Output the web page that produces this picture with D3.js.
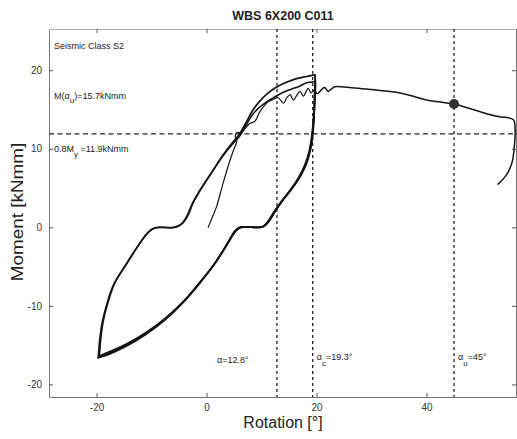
<!DOCTYPE html>
<html>
<head>
<meta charset="utf-8">
<script src="https://cdn.jsdelivr.net/npm/d3@7"></script>
<style>
  html, body { margin: 0; padding: 0; background: #fff; }
  svg { display: block; font-family: "Liberation Sans", Arial, sans-serif; }
</style>
</head>
<body>
<svg id="chart" width="517" height="439"></svg>
<script>
// Moment–rotation record of connection WBS 6X200 C011 (rotation in degrees, moment in kNmm)

const yTicks = [-20, -10, 0, 10, 20];
const xTicks = [-20, 0, 20, 40];

// first loading from rest, with the saw-tooth slip response
const initialLoad = [
  [0.3, 0], [1.0, 1.2], [1.8, 2.6], [3.0, 5.6], [4.3, 8.6], [5.0, 10.0], [5.5, 11.0],
  [5.2, 11.6], [5.6, 12.1], [6.3, 12.0], [6.9, 12.5], [7.8, 13.2], [8.8, 13.5],
  [9.6, 14.6], [10.4, 15.4], [11.2, 16.0], [12.2, 16.3], [13.0, 16.5], [14.0, 15.8],
  [14.6, 16.5], [15.2, 16.9], [15.8, 16.2], [16.4, 16.8], [17.0, 17.3], [17.6, 16.7],
  [18.1, 17.3], [18.5, 17.7], [19.0, 17.1], [19.4, 17.4], [19.7, 17.5]
];

// unloading branches (positive tip -> slip plateau -> negative tip)
const downFirst = [
  [19.7, 17.5], [19.5, 14.5], [19.2, 12.0], [18.7, 9.8], [17.9, 8.0], [16.8, 6.4],
  [15.3, 4.8], [13.6, 3.3], [12.3, 2.0], [11.2, 0.8], [10.2, 0.1], [9.4, 0], [6.3, 0],
  [5.4, -0.4], [4.4, -1.4], [3.1, -2.9], [1.6, -4.5], [-0.5, -6.4], [-3.5, -8.9],
  [-7.2, -11.4], [-10.8, -13.3], [-14.4, -14.8], [-17.5, -15.8], [-19.5, -16.4]
];
const downSecond = [
  [19.7, 18.6], [19.6, 15.0], [19.3, 12.2], [18.9, 10.0], [18.1, 8.1], [17.0, 6.5],
  [15.5, 4.9], [13.8, 3.4], [12.5, 2.1], [11.4, 0.9], [10.4, 0.15], [9.6, 0], [6.1, 0],
  [5.2, -0.5], [4.2, -1.6], [2.9, -3.1], [1.4, -4.7], [-0.7, -6.6], [-3.7, -9.1],
  [-7.4, -11.6], [-11.0, -13.5], [-14.6, -15.0], [-17.7, -16.0], [-19.6, -16.5]
];
const downThird = [
  [19.7, 19.4], [19.8, 18.2], [19.6, 15.2], [19.4, 12.5], [19.0, 10.3], [18.3, 8.4],
  [17.2, 6.7], [15.7, 5.1], [14.0, 3.6], [12.7, 2.3], [11.6, 1.0], [10.6, 0.2], [9.8, 0],
  [6.0, 0], [5.0, -0.6], [4.0, -1.8], [2.7, -3.3], [1.2, -4.9], [-0.9, -6.8],
  [-3.9, -9.3], [-7.6, -11.8], [-11.2, -13.7], [-14.8, -15.2], [-17.9, -16.2], [-19.7, -16.6]
];

// reloading branches (negative tip -> slip plateau -> positive tip)
const upMiddle = [
  [-19.5, -16.4], [-19.2, -14.0], [-18.8, -12.0], [-18.1, -10.0], [-16.7, -7.1],
  [-14.5, -4.6], [-12.1, -2.0], [-10.4, -0.5], [-9.2, -0.05], [-5.7, 0], [-4.4, 0.5],
  [-3.4, 1.5], [-2.4, 3.2], [-1.1, 4.8], [0.1, 6.1], [1.6, 7.7], [3.1, 9.2], [4.6, 10.5],
  [6.1, 11.7], [7.2, 13.0], [8.2, 14.2], [9.5, 15.2], [11.0, 16.0], [12.4, 16.6],
  [14.0, 17.2], [15.5, 17.6], [17.0, 18.0], [18.2, 18.4], [19.2, 18.5], [19.7, 18.6]
];
const upOuter = [
  [-19.7, -16.6], [-19.4, -14.2], [-19.0, -12.2], [-18.3, -10.2], [-16.9, -7.3],
  [-14.7, -4.8], [-12.3, -2.2], [-10.6, -0.6], [-9.4, -0.05], [-5.9, 0], [-4.6, 0.4],
  [-3.6, 1.4], [-2.6, 3.0], [-1.3, 4.6], [-0.1, 5.9], [1.4, 7.5], [2.9, 9.1], [4.4, 10.5],
  [6.0, 11.9], [7.3, 13.5], [8.4, 14.9], [9.6, 16.0], [11.0, 17.0], [12.6, 17.8],
  [14.3, 18.4], [16.2, 18.9], [18.2, 19.2], [19.2, 19.35], [19.7, 19.4]
];

// final monotonic push to failure
const finalPush = [
  [19.7, 17.5], [20.1, 17.0], [20.6, 17.3], [21.0, 17.6], [21.5, 17.8], [22.1, 17.3],
  [22.7, 17.6], [23.3, 17.9], [26.0, 17.8], [29.1, 17.6], [32.0, 17.4], [35.2, 17.1],
  [38.0, 16.6], [40.0, 16.2], [42.5, 15.95], [45.0, 15.7], [47.5, 15.2], [50.3, 14.6],
  [53.0, 14.1], [55.8, 13.7], [56.1, 12.5], [56.1, 11.6], [55.9, 9.8], [55.6, 8.4],
  [54.9, 7.1], [54.0, 6.2], [53.0, 5.5]
];

// reference values
const alphaLimit = 12.8, alphaC = 19.3, alphaU = 45;
const momentAtAlphaU = 15.7;
const yieldFraction = 11.9;

const svg = d3.select("#chart");
const plotLeft = 49, plotRight = 517, plotTop = 29, plotBottom = 397;

const x = d3.scaleLinear().domain([-28.65, 56.45]).range([plotLeft, plotRight]);
const y = d3.scaleLinear().domain([-21.6, 25.25]).range([plotBottom, plotTop]);

// title
svg.append("text")
  .attr("x", 283).attr("y", 19.5)
  .attr("text-anchor", "middle")
  .attr("font-size", 12.5).attr("font-weight", "bold").attr("fill", "#222")
  .text("WBS 6X200 C011");

// axes: inward ticks on all four sides, labels on left and bottom
const plainFormat = d => String(d);
function styleAxis(g) {
  g.selectAll("path.domain").attr("stroke", "#777").attr("stroke-width", 1);
  g.selectAll(".tick line").attr("stroke", "#555");
  g.selectAll(".tick text").attr("fill", "#333").attr("font-size", 10)
    .attr("font-family", "Liberation Sans, Arial, sans-serif");
}
svg.append("g").attr("transform", `translate(${plotLeft},0)`)
  .call(d3.axisLeft(y).tickValues(yTicks).tickFormat(plainFormat)
    .tickSizeInner(-4).tickSizeOuter(0).tickPadding(7))
  .call(styleAxis);
svg.append("g").attr("transform", `translate(0,${plotBottom})`)
  .call(d3.axisBottom(x).tickValues(xTicks).tickFormat(plainFormat)
    .tickSizeInner(-4).tickSizeOuter(0).tickPadding(7))
  .call(styleAxis);
svg.append("g").attr("transform", `translate(0,${plotTop})`)
  .call(d3.axisTop(x).tickValues(xTicks).tickSizeInner(-4).tickSizeOuter(0).tickFormat(""))
  .call(styleAxis)
  .call(g => g.select("path.domain").attr("stroke", "#aaa"));
svg.append("g").attr("transform", `translate(${plotRight - 1},0)`)
  .call(d3.axisRight(y).tickValues(yTicks).tickSizeInner(-4).tickSizeOuter(0).tickFormat(""))
  .call(styleAxis);

// axis titles
svg.append("text")
  .attr("transform", `translate(23,212) rotate(-90) scale(1.18,1)`)
  .attr("text-anchor", "middle").attr("font-size", 16).attr("fill", "#222")
  .text("Moment [kNmm]");
svg.append("text")
  .attr("x", 283).attr("y", 428)
  .attr("text-anchor", "middle").attr("font-size", 16).attr("fill", "#222")
  .text("Rotation [°]");

// reference lines
const plot = svg.append("g");
plot.append("line")
  .attr("x1", plotLeft).attr("x2", plotRight).attr("y1", y(yieldFraction)).attr("y2", y(yieldFraction))
  .attr("stroke", "#222").attr("stroke-width", 1.2).attr("stroke-dasharray", "5,3.5");
[alphaLimit, alphaC, alphaU].forEach(a => {
  plot.append("line")
    .attr("x1", x(a)).attr("x2", x(a)).attr("y1", plotTop).attr("y2", plotBottom)
    .attr("stroke", "#222").attr("stroke-width", 1.3).attr("stroke-dasharray", "3,3");
});

// hysteresis curves
const line = d3.line().x(d => x(d[0])).y(d => y(d[1])).curve(d3.curveCatmullRom.alpha(0.5));
const curves = [
  { data: downFirst, w: 1.8 },
  { data: downSecond, w: 1.8 },
  { data: downThird, w: 1.8 },
  { data: upMiddle, w: 1.6 },
  { data: upOuter, w: 1.7 },
  { data: initialLoad, w: 1.2 },
  { data: finalPush, w: 1.5 }
];
plot.selectAll("path.curve").data(curves).enter().append("path")
  .attr("class", "curve")
  .attr("d", d => line(d.data))
  .attr("fill", "none").attr("stroke", "#151515")
  .attr("stroke-width", d => d.w).attr("stroke-linejoin", "round").attr("stroke-linecap", "round");

// ultimate rotation marker
plot.append("circle")
  .attr("cx", x(alphaU)).attr("cy", y(momentAtAlphaU)).attr("r", 5)
  .attr("fill", "#333");

// annotations
const ann = svg.append("g").attr("font-size", 9).attr("fill", "#222");
ann.append("text").attr("x", 54).attr("y", 49).text("Seismic Class  S2");

const mu = ann.append("text").attr("x", 54).attr("y", 99);
mu.append("tspan").text("M(α");
mu.append("tspan").attr("dy", 4).attr("font-size", 8).text("u");
mu.append("tspan").attr("dy", -4).text(`)=${momentAtAlphaU}kNmm`);

const my = ann.append("text").attr("x", 54).attr("y", 152);
my.append("tspan").text("0.8M");
my.append("tspan").attr("dy", 5).attr("font-size", 8).text("y");
my.append("tspan").attr("dy", -5).text(` =${yieldFraction}kNmm`);

ann.append("text").attr("x", x(alphaLimit) - 60).attr("y", 363).text(`α=${alphaLimit}°`);

const ac = ann.append("text").attr("x", x(alphaC) + 4).attr("y", 360);
ac.append("tspan").text("α");
ac.append("tspan").attr("dy", 6).attr("font-size", 8).text("c");
ac.append("tspan").attr("dy", -6).text(`=${alphaC}°`);

const au = ann.append("text").attr("x", x(alphaU) + 4).attr("y", 360);
au.append("tspan").text("α");
au.append("tspan").attr("dy", 6).attr("font-size", 8).text("u");
au.append("tspan").attr("dy", -6).text(`=${alphaU}°`);
</script>
</body>
</html>
